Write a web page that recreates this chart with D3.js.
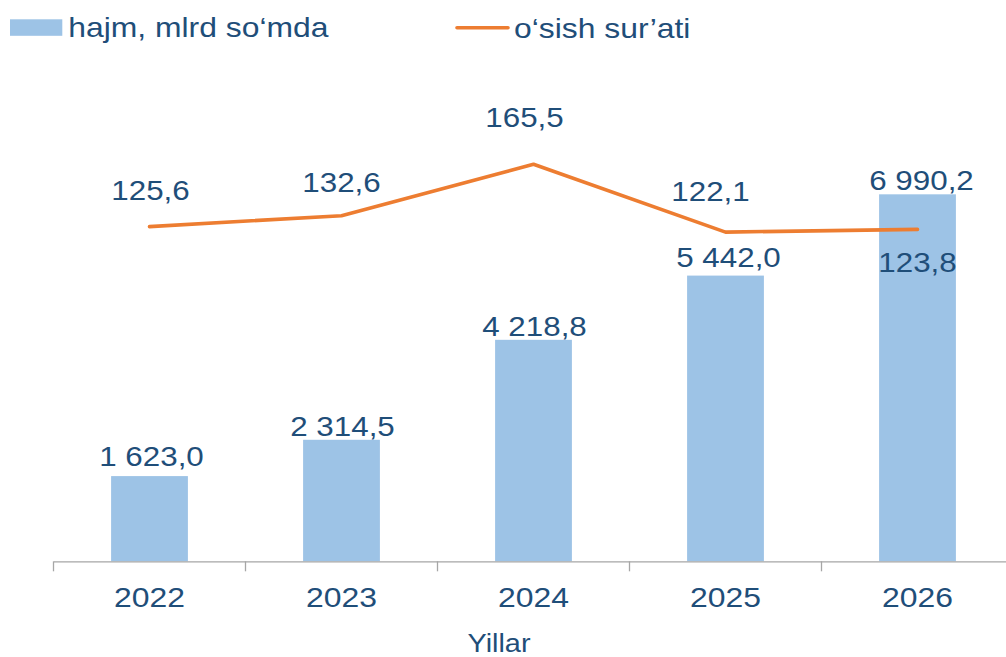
<!DOCTYPE html>
<html>
<head>
<meta charset="utf-8">
<script src="https://cdn.jsdelivr.net/npm/d3@7"></script>
<style>
  html, body { margin: 0; padding: 0; background: #fff; }
  svg { display: block; }
  text { font-family: "Liberation Sans", Arial, sans-serif; fill: #1F4E79; }
</style>
</head>
<body>
<svg id="chart" width="1006" height="657"></svg>
<script>
// ---- data ----
const years = ["2022", "2023", "2024", "2025", "2026"];
const volume = [1623.0, 2314.5, 4218.8, 5442.0, 6990.2];      // hajm, mlrd so‘mda
const growth = [125.6, 132.6, 165.5, 122.1, 123.8];           // o‘sish sur’ati
const seriesNames = ["hajm, mlrd so‘mda", "o‘sish sur’ati"];
const axisTitle = "Yillar";

// ---- layout (label nudges, not data) ----
const barLabelDx = [2, 1, 1, 3, 4];
const barLabelGap = [10, 4, 4.3, 8.4, 4];
const lineLabelDx = [1, 0, -9, -15, 0];
const lineLabelDy = [-26.6, -24, -37.6, -30.7, 43];

const TEXT = "#1F4E79", BAR = "#9DC3E6", LINE = "#ED7D31", AXIS = "#A6A6A6";
const fmt = d3.formatLocale({decimal: ",", thousands: "\u00a0", grouping: [3], currency: ["", ""]}).format(",.1f");

const svg = d3.select("#chart");

const x = d3.scaleBand().domain(years).range([53.5, 1013.5]).paddingInner(0.6).paddingOuter(0.3);
const yBar = d3.scaleLinear().domain([0, 8000]).range([561.3, 141.3]);
const yLine = d3.scaleLinear().domain([0, 200]).range([422.8, 110.4]);
const cx = d => x(d) + x.bandwidth() / 2;

function label(g, txt, px, py, size, sx, anchor) {
  return g.append("text")
    .attr("transform", `translate(${px},${py}) scale(${sx},1)`)
    .attr("text-anchor", anchor || "middle")
    .style("font-size", size + "px")
    .text(txt);
}

// bars
svg.append("g").selectAll("rect").data(years).join("rect")
  .attr("x", d => x(d))
  .attr("width", x.bandwidth())
  .attr("y", (d, i) => yBar(volume[i]))
  .attr("height", (d, i) => yBar(0) - yBar(volume[i]))
  .attr("fill", BAR);

// axis
const axisG = svg.append("g").attr("transform", `translate(0,${yBar(0)})`)
  .call(d3.axisBottom(x).tickSize(0).tickFormat(""));
axisG.select(".domain").attr("stroke", AXIS).attr("stroke-width", 1.3);
axisG.selectAll(".tick").remove();
// category boundary ticks
const bounds = years.map(d => x(d) - x.step() * x.paddingInner() / 2).concat([x.range()[1]]);
axisG.selectAll("line.sep").data(bounds).join("line").attr("class", "sep")
  .attr("x1", d => d).attr("x2", d => d).attr("y1", 0).attr("y2", 10)
  .attr("stroke", AXIS).attr("stroke-width", 1.3);

// x labels
const xl = svg.append("g");
years.forEach(d => label(xl, d, cx(d), 607.3, 28, 1.14));
label(svg.append("g"), axisTitle, 499, 652.3, 26, 1.11);

// line
const line = d3.line().x((d, i) => cx(years[i])).y(d => yLine(d));
svg.append("path").datum(growth)
  .attr("d", line)
  .attr("fill", "none")
  .attr("stroke", LINE)
  .attr("stroke-width", 3.6)
  .attr("stroke-linecap", "round")
  .attr("stroke-linejoin", "round");

// bar labels
const bl = svg.append("g");
volume.forEach((v, i) => label(bl, fmt(v), cx(years[i]) + barLabelDx[i], yBar(v) - barLabelGap[i], 28, 1.12));

// line labels
const ll = svg.append("g");
growth.forEach((v, i) => label(ll, fmt(v), cx(years[i]) + lineLabelDx[i], yLine(v) + lineLabelDy[i], 28, 1.12));

// legend
const lg = svg.append("g");
lg.append("rect").attr("x", 10).attr("y", 19.3).attr("width", 52.3).attr("height", 16.5).attr("fill", BAR);
label(lg, seriesNames[0], 68.3, 36.7, 27, 1.18, "start");
lg.append("line").attr("x1", 457).attr("x2", 508).attr("y1", 27.7).attr("y2", 27.7)
  .attr("stroke", LINE).attr("stroke-width", 3.6).attr("stroke-linecap", "round");
label(lg, seriesNames[1], 514, 37.7, 27, 1.18, "start");
</script>
</body>
</html>
